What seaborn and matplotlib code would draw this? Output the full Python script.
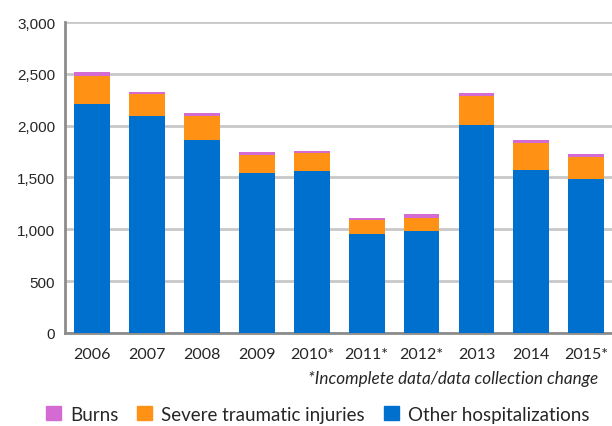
import numpy as np
import pandas as pd
import matplotlib
matplotlib.use("Agg")
import matplotlib.pyplot as plt
import seaborn as sns
from matplotlib.patches import Patch
from matplotlib.ticker import FuncFormatter

# data
years = ["2006", "2007", "2008", "2009", "2010*", "2011*", "2012*", "2013", "2014", "2015*"]
other = [2207, 2097, 1865, 1540, 1560, 958, 987, 2010, 1577, 1490]
severe = [270, 206, 225, 173, 172, 136, 126, 280, 259, 203]
burns = [45, 26, 36, 29, 19, 19, 39, 29, 29, 29]

blue = "#0070CE"
orange = "#FF9114"
pink = "#D46BD2"

df = pd.DataFrame({"year": years, "other": other, "severe": severe, "burns": burns})
df["lvl2"] = df["other"] + df["severe"]
df["total"] = df["lvl2"] + df["burns"]

sns.set_style("white")
plt.rcParams["font.family"] = ["Lato", "DejaVu Sans"]

fig = plt.figure(figsize=(6.12, 4.27), dpi=100)
ax = fig.add_axes([0.106, 0.218, 0.894, 0.728])

# stacked bars drawn from the top layer down
for col, c in [("total", pink), ("lvl2", orange), ("other", blue)]:
    sns.barplot(data=df, x="year", y=col, color=c, width=0.65, saturation=1,
                linewidth=0, edgecolor="none", ax=ax, zorder=3)

ax.set_ylim(0, 3000)
ax.set_xlim(-0.5, 9.47)
ax.set_yticks(np.arange(0, 3001, 500))
ax.yaxis.set_major_formatter(FuncFormatter(lambda v, p: f"{int(v):,}"))
ax.grid(axis="y", color="#c8c8c8", linewidth=2, zorder=0)
ax.set_axisbelow(True)
ax.set_xlabel("")
ax.set_ylabel("")

for s in ["top", "right"]:
    ax.spines[s].set_visible(False)
for s in ["left", "bottom"]:
    ax.spines[s].set_color("#8c8c8c")
    ax.spines[s].set_linewidth(2)

ax.tick_params(axis="y", length=4, width=1, color="#8c8c8c", labelsize=11, pad=3)
ax.tick_params(axis="x", length=0, labelsize=11.5, pad=10)
for t in ax.get_yticklabels():
    t.set_fontfamily(["Liberation Sans", "DejaVu Sans"])

fig.text(0.977, 0.113, "*Incomplete data/data collection change", ha="right", va="center",
         fontsize=12.3, style="italic")

handles = [Patch(color=pink, label="Burns"),
           Patch(color=orange, label="Severe traumatic injuries"),
           Patch(color=blue, label="Other hospitalizations")]
fig.legend(handles=handles, loc="center", bbox_to_anchor=(0.519, 0.028), ncol=3, frameon=False,
           fontsize=13.5, handlelength=0.8, handleheight=0.8, handletextpad=0.5, columnspacing=1.0)

fig.savefig("out.png", dpi=100)
